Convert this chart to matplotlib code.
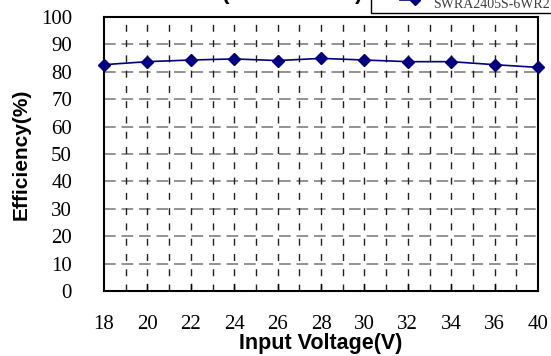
import matplotlib
matplotlib.use("Agg")
import matplotlib.pyplot as plt
from matplotlib.patches import Rectangle
from matplotlib.lines import Line2D

voltages = ["18", "20", "22", "24", "26", "28", "30", "32", "34", "36", "40"]
efficiency = [82.6, 83.7, 84.3, 84.7, 84.1, 84.9, 84.3, 83.7, 83.7, 82.6, 81.6]
y_ticks = [0, 10, 20, 30, 40, 50, 60, 70, 80, 90, 100]
series_name = "SWRA2405S-6WR2"
title = "EFFICIENCY (FULL LOAD)"

W, H = 551, 356
fig = plt.figure(figsize=(W / 100, H / 100), dpi=100)
ax = fig.add_axes([104 / W, (H - 291) / H, (538 - 104) / W, (291 - 17) / H])

x = list(range(len(voltages)))
ax.plot(x, efficiency, color="#000080", lw=1.2, marker="D", ms=6,
        markerfacecolor="#000080", markeredgecolor="#000080", zorder=5, clip_on=False)

ax.set_xlim(0, len(voltages) - 1)
ax.set_ylim(0, 100)
ax.set_yticks(y_ticks)
ax.set_xticks(x)
ax.set_xticklabels(voltages, family="Liberation Serif", fontsize=15)
ax.set_yticklabels([str(v) for v in y_ticks], family="Liberation Serif", fontsize=15)
ax.tick_params(axis="y", length=0, pad=23)
ax.tick_params(axis="x", length=0, pad=17)

# grid lines
for v in y_ticks[1:-1]:
    ax.axhline(v, color="#808080", lw=1.2, ls=(0, (7, 3.5)), zorder=1)
for i in range(1, 2 * (len(voltages) - 1)):
    ax.axvline(i / 2, color="#202020", lw=1.0, ls=(0, (5, 6)), zorder=1)
for i in range(1, len(voltages) - 1):
    ax.plot([i, i], [0, 2.5], color="black", lw=1.0, zorder=2)

for s in ax.spines.values():
    s.set_linewidth(1.5)
    s.set_color("black")

ax.set_ylabel("Efficiency(%)", family="Liberation Sans", fontweight="bold", fontsize=15)
ax.yaxis.set_label_coords((31 - 104) / 434, 0.5)
ax.set_xlabel("Input Voltage(V)", family="Liberation Sans", fontweight="bold", fontsize=15.5)
ax.xaxis.set_label_coords(0.5, (291 - 333) / 274)

# cropped title and legend at top
fig.text(362 / W, 1 + 0.5 / H, title, ha="right", va="baseline",
         family="Liberation Sans", fontweight="bold", fontsize=16)
fig.patches.append(Rectangle((371 / W, 1 - 12.5 / H), 0.5, 0.2, transform=fig.transFigure,
                             facecolor="white", edgecolor="black", lw=1.0))
fig.lines.append(Line2D([400 / W, 415 / W], [1 + 0.5 / H, 1 + 0.5 / H], transform=fig.transFigure,
                        color="#000080", lw=1.2, marker="D", ms=5, markevery=[1],
                        markerfacecolor="#000080"))
fig.text(433 / W, 1 - 8 / H, series_name, ha="left", va="baseline",
         family="Liberation Serif", fontsize=10, color="#404040")

fig.savefig("out.png", dpi=100)
